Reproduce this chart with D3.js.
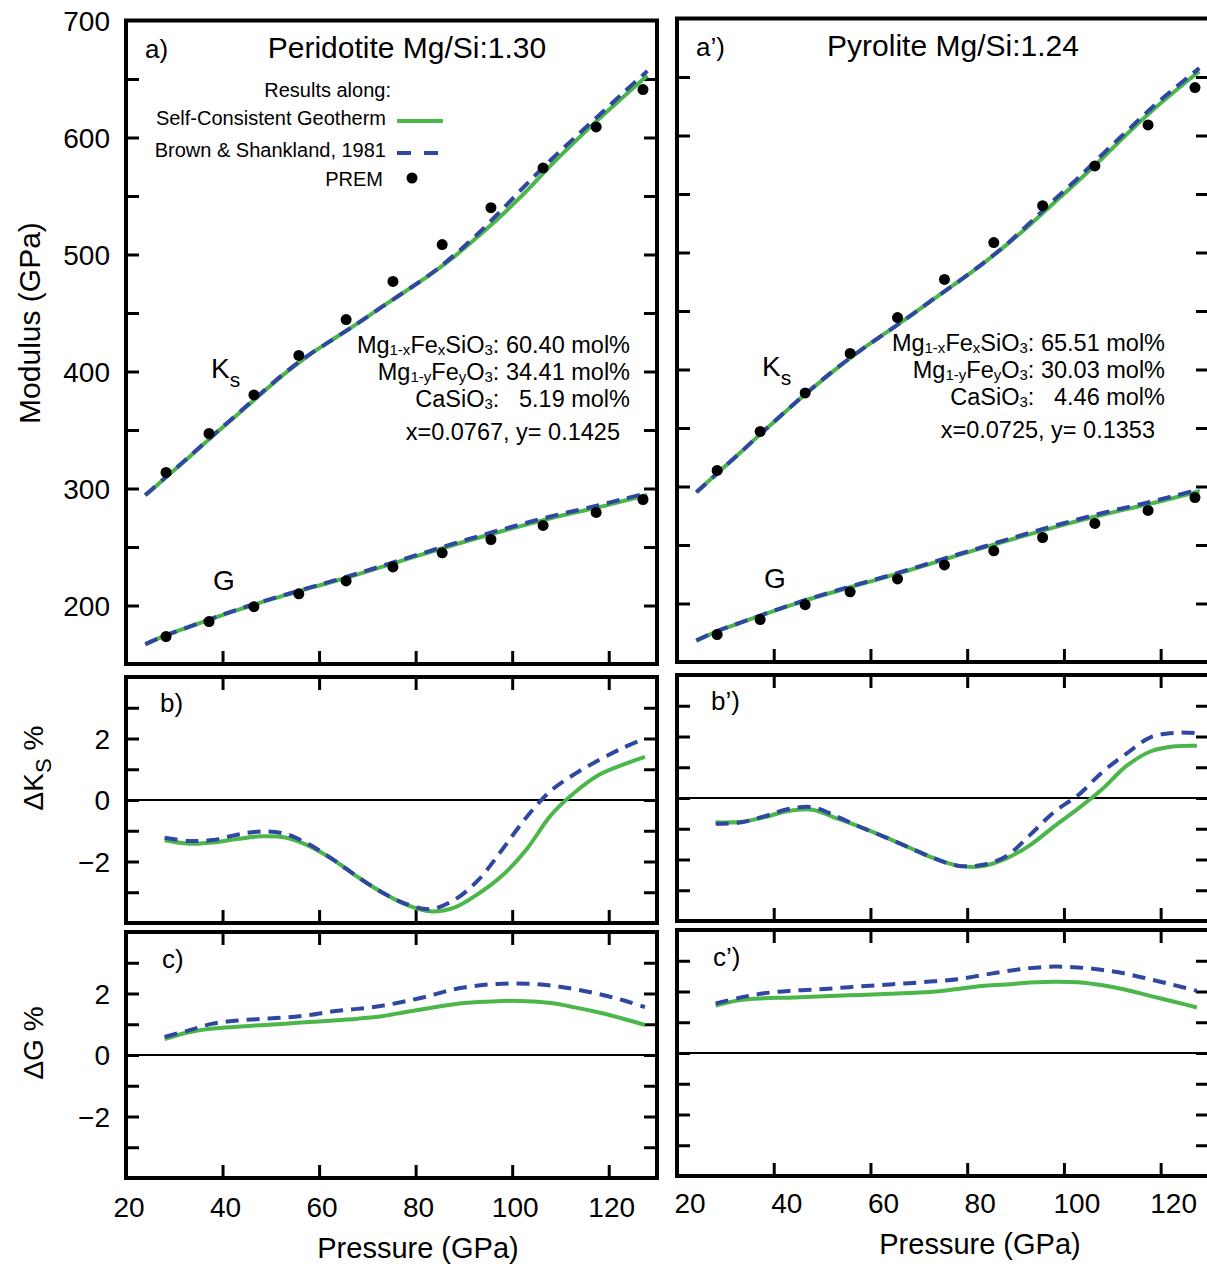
<!DOCTYPE html>
<html lang="en">
<head>
<meta charset="utf-8">
<title>Modulus along geotherms</title>
<script src="https://cdn.jsdelivr.net/npm/d3@7"></script>
<style>
  body { margin: 0; background: #fff; }
  svg text { font-family: "Liberation Sans", Arial, sans-serif; fill: #000; }
</style>
</head>
<body>
<script>
// pressure grids (GPa)
var pTop = [24, 28, 33, 38, 43, 48, 53, 58, 63, 68, 73, 78, 83, 88, 93, 98, 103, 108, 113, 118, 123, 128];
var pDelta = [28, 33, 38, 43, 48, 53, 58, 63, 68, 73, 78, 83, 88, 93, 98, 103, 108, 113, 118, 123, 127.5];

// PREM points
var premP = [28.3, 37.2, 46.5, 55.8, 65.6, 75.3, 85.5, 95.6, 106.4, 117.4, 127.1];
var premKs = [313.7, 347, 380, 413.7, 444.4, 477, 508.5, 540, 574, 609, 641];
var premG = [173.5, 186.3, 199, 210, 221, 233, 245, 256.4, 268.4, 279.5, 290.6];

// peridotite (left)
var ksScL = [294, 308.5, 326.6, 345.0, 362.9, 380.9, 398.6, 414.3, 427.8, 441.2, 455.2, 468.8, 482.7, 498.2, 515.7, 534.2, 554.3, 576.2, 596.5, 616.0, 634.7, 653.0];
var ksBsL = [294.5, 308.8, 326.9, 345.3, 363.4, 381.5, 399.1, 414.5, 427.8, 441.2, 455.2, 468.9, 483.0, 499.5, 518.1, 538.8, 560.2, 580.8, 600.1, 619.0, 638.2, 656.9];
var gScL = [166.7, 174.0, 181.6, 189.0, 196.0, 202.7, 208.8, 214.8, 220.5, 226.6, 233.0, 239.5, 245.7, 251.9, 257.9, 263.7, 269.2, 274.6, 279.4, 284.1, 289.3, 294.5];
var gBsL = [167, 174.1, 181.7, 189.3, 196.4, 203.1, 209.2, 215.3, 221.2, 227.4, 233.8, 240.3, 246.7, 253.1, 259.2, 265.1, 270.7, 276.1, 281.0, 285.7, 291.0, 296.1];
var dKsScL = [-1.31, -1.42, -1.38, -1.27, -1.18, -1.22, -1.5, -1.95, -2.5, -3.0, -3.4, -3.62, -3.5, -3.05, -2.45, -1.6, -0.5, 0.25, 0.82, 1.15, 1.4];
var dKsBsL = [-1.23, -1.33, -1.30, -1.13, -1.02, -1.1, -1.45, -1.95, -2.5, -3.0, -3.38, -3.55, -3.25, -2.6, -1.6, -0.55, 0.3, 0.85, 1.3, 1.7, 2.0];
var dGScL = [0.52, 0.74, 0.86, 0.92, 0.97, 1.02, 1.07, 1.12, 1.18, 1.26, 1.40, 1.53, 1.65, 1.72, 1.76, 1.75, 1.69, 1.55, 1.38, 1.18, 0.98];
var dGBsL = [0.59, 0.80, 1.02, 1.12, 1.17, 1.22, 1.3, 1.42, 1.5, 1.6, 1.75, 1.93, 2.14, 2.26, 2.32, 2.32, 2.26, 2.14, 1.98, 1.78, 1.56];

// pyrolite (right)
var ksScR = [295, 310.1, 328.7, 347.6, 366.1, 383.9, 400.8, 416.6, 430.8, 445.2, 460.1, 474.6, 489.7, 506.1, 523.8, 542.6, 561.3, 580.8, 601.1, 620.3, 638.0, 654.9];
var ksBsR = [295, 310.0, 328.6, 347.7, 366.3, 384.2, 401.1, 416.6, 430.8, 445.2, 460.1, 474.6, 489.9, 506.5, 525.5, 545.1, 563.9, 584.0, 603.6, 623.1, 640.8, 657.6];
var gScR = [168, 175.8, 183.4, 190.7, 197.7, 204.5, 210.5, 216.5, 222.3, 228.4, 234.7, 241.1, 247.3, 253.3, 259.3, 265.1, 270.7, 275.9, 280.7, 285.4, 290.6, 295.9];
var gBsR = [168.5, 175.9, 183.5, 191.0, 198.1, 204.9, 211.1, 217.1, 222.9, 229.1, 235.5, 241.9, 248.1, 254.4, 260.5, 266.4, 272.0, 277.3, 282.2, 286.9, 292.2, 297.5];
var dKsScR = [-0.79, -0.78, -0.63, -0.42, -0.38, -0.66, -0.95, -1.27, -1.61, -1.95, -2.2, -2.22, -1.97, -1.53, -0.92, -0.34, 0.3, 1.05, 1.52, 1.68, 1.7];
var dKsBsR = [-0.84, -0.8, -0.6, -0.36, -0.3, -0.6, -0.95, -1.27, -1.61, -1.95, -2.2, -2.18, -1.9, -1.2, -0.45, 0.1, 0.85, 1.45, 1.98, 2.12, 2.11];
var dGScR = [1.54, 1.72, 1.78, 1.8, 1.83, 1.86, 1.89, 1.92, 1.95, 1.99, 2.08, 2.18, 2.23, 2.29, 2.32, 2.3, 2.2, 2.05, 1.85, 1.66, 1.48];
var dGBsR = [1.61, 1.8, 1.94, 2.02, 2.06, 2.11, 2.17, 2.22, 2.27, 2.33, 2.4, 2.53, 2.66, 2.76, 2.81, 2.78, 2.7, 2.57, 2.39, 2.2, 2.02];

// ticks
var xTicks = [40, 60, 80, 100, 120];
var xLabels = [20, 40, 60, 80, 100, 120];
var modTicks = [200, 250, 300, 350, 400, 450, 500, 550, 600, 650];
var modLabels = [200, 300, 400, 500, 600, 700];
var dTicks = [-3, -2, -1, 0, 1, 2, 3];
var dLabels = [-2, 0, 2];

var green = "#4bb74a";
var blue = "#2f47a0";

var svg = d3.select("body").append("svg")
    .attr("width", 1207)
    .attr("height", 1269);

function zip(xs, ys) { return xs.map(function(d, i) { return [d, ys[i]]; }); }

function axes(x, y, opts) {
  var g = svg.append("g");
  var x0 = x.range()[0], x1 = x.range()[1];
  var yb = y.range()[0], yt = y.range()[1];
  g.append("g").attr("transform", "translate(" + x0 + ",0)")
    .call(d3.axisLeft(y).tickValues(opts.yTicks).tickSize(-13).tickFormat(""));
  g.append("g").attr("transform", "translate(" + x1 + ",0)")
    .call(d3.axisRight(y).tickValues(opts.yTicks).tickSize(-13).tickFormat(""));
  g.append("g").attr("transform", "translate(0," + yb + ")")
    .call(d3.axisBottom(x).tickValues(xTicks).tickSize(-13).tickFormat(""));
  if (opts.top) {
    g.append("g").attr("transform", "translate(0," + yt + ")")
      .call(d3.axisTop(x).tickValues(xTicks).tickSize(-13).tickFormat(""));
  }
  g.selectAll(".domain").remove();
  g.selectAll(".tick line").attr("stroke", "#000").attr("stroke-width", 3);
  if (opts.zero) {
    g.append("line")
      .attr("x1", x0).attr("x2", x1)
      .attr("y1", y(0)).attr("y2", y(0))
      .attr("stroke", "#000").attr("stroke-width", 2);
  }
  g.append("rect")
    .attr("x", x0).attr("y", yt)
    .attr("width", x1 - x0).attr("height", yb - yt)
    .attr("fill", "none").attr("stroke", "#000").attr("stroke-width", 4);
  return g;
}

function yLabels(y, x0, vals, fmt) {
  svg.append("g").selectAll("text").data(vals).enter().append("text")
    .attr("x", x0 - 16)
    .attr("y", function(d) { return y(d); })
    .attr("dy", "0.36em")
    .attr("text-anchor", "end")
    .style("font-size", "28px")
    .text(fmt);
}

function curves(x, y, ps, sc, bs) {
  var line = d3.line()
    .curve(d3.curveCatmullRom.alpha(0.5))
    .x(function(d) { return x(d[0]); })
    .y(function(d) { return y(d[1]); });
  svg.append("path").attr("d", line(zip(ps, sc)))
    .attr("fill", "none").attr("stroke", green).attr("stroke-width", 4);
  svg.append("path").attr("d", line(zip(ps, bs)))
    .attr("fill", "none").attr("stroke", blue).attr("stroke-width", 4)
    .attr("stroke-dasharray", "13,8");
}

function dots(x, y, ps, vs) {
  svg.append("g").selectAll("circle").data(zip(ps, vs)).enter().append("circle")
    .attr("cx", function(d) { return x(d[0]); })
    .attr("cy", function(d) { return y(d[1]); })
    .attr("r", 5.5).attr("fill", "#000");
}

function label(x, y, txt, size, anchor) {
  return svg.append("text").attr("x", x).attr("y", y)
    .attr("text-anchor", anchor || "start")
    .style("font-size", size + "px").text(txt);
}

function ksLabel(x, y, sub) {
  var t = svg.append("text").attr("x", x).attr("y", y).style("font-size", "28px");
  t.append("tspan").text("K");
  t.append("tspan").attr("dy", 9).style("font-size", "21px").text(sub);
}

// chemical formula line with small subscripts
function formula(x, y, parts) {
  var t = svg.append("text").attr("x", x).attr("y", y)
    .attr("text-anchor", "end").style("font-size", "23.5px");
  parts.forEach(function(p) {
    if (p[1]) t.append("tspan").attr("dy", 2).style("font-size", "15px").text(p[0]);
    else t.append("tspan").attr("dy", p[2] ? -2 : 0).text(p[0]);
  });
}

function column(c) {
  var x = d3.scaleLinear().domain([20, 130]).range([c.x0, c.x1]);
  var yTop = d3.scaleLinear().domain([150, 700]).range([664 + c.dy, 20.5 + c.dy]);
  var yB = d3.scaleLinear().domain([-4, 4]).range([923 + c.dy, 677 + c.dy]);
  var yC = d3.scaleLinear().domain([-4, 4]).range([1178 + c.dy, 932 + c.dy]);

  axes(x, yTop, { yTicks: modTicks, top: false });
  axes(x, yB, { yTicks: dTicks, top: true, zero: true });
  axes(x, yC, { yTicks: dTicks, top: true, zero: true });

  curves(x, yTop, pTop, c.ksSc, c.ksBs);
  curves(x, yTop, pTop, c.gSc, c.gBs);
  dots(x, yTop, premP, premKs);
  dots(x, yTop, premP, premG);
  curves(x, yB, pDelta, c.dKsSc, c.dKsBs);
  curves(x, yC, pDelta, c.dGSc, c.dGBs);

  svg.append("g").selectAll("text").data(xLabels).enter().append("text")
    .attr("x", function(d) { return x(d) + c.labDx; })
    .attr("y", c.labY)
    .attr("text-anchor", "middle")
    .style("font-size", "28px")
    .text(function(d) { return d; });
  label(c.x0 + 292 + c.titleDx, c.labY + 41, "Pressure (GPa)", 29, "middle");

  if (c.yLab) {
    yLabels(yTop, c.x0, modLabels, function(d) { return d; });
    yLabels(yB, c.x0, dLabels, function(d) { return d < 0 ? "\u2212" + (-d) : d; });
    yLabels(yC, c.x0, dLabels, function(d) { return d < 0 ? "\u2212" + (-d) : d; });
  }

  label(c.x0 + 19, 58 + c.dy, c.tag[0], 26);
  label(c.x0 + 34, 712 + c.dy, c.tag[1], 26);
  label(c.x0 + 36, 968 + c.dy, c.tag[2], 26);
  label(c.titleX, 58 + c.dy, c.title, 30, "middle");

  ksLabel(c.x0 + 85, 378 + c.dy, "s");
  label(c.x0 + 87, 590 + c.dy, "G", 28);

  var ax = c.annX;
  formula(ax, 353 + c.dy, [["Mg"], ["1-x", 1], ["Fe", 0, 1], ["x", 1], ["SiO", 0, 1], ["3", 1], [": " + c.comp[0] + " mol%", 0, 1]]);
  formula(ax, 380 + c.dy, [["Mg"], ["1-y", 1], ["Fe", 0, 1], ["y", 1], ["O", 0, 1], ["3", 1], [": " + c.comp[1] + " mol%", 0, 1]]);
  formula(ax, 407 + c.dy, [["CaSiO"], ["3", 1], [":\u00a0\u00a0\u00a0" + c.comp[2] + " mol%", 0, 1]]);
  label(ax - 10, 440 + c.dy, c.xy, 23.5, "end");
}

column({
  x0: 126, x1: 657, dy: 0, labDx: 3, labY: 1217, titleDx: 0, yLab: true,
  tag: ["a)", "b)", "c)"], title: "Peridotite Mg/Si:1.30", titleX: 407,
  ksSc: ksScL, ksBs: ksBsL, gSc: gScL, gBs: gBsL,
  dKsSc: dKsScL, dKsBs: dKsBsL, dGSc: dGScL, dGBs: dGBsL,
  annX: 630, comp: ["60.40", "34.41", "5.19"], xy: "x=0.0767, y= 0.1425"
});

column({
  x0: 677, x1: 1209, dy: -2, labDx: 13, labY: 1213, titleDx: 11, yLab: false,
  tag: ["a\u2019)", "b\u2019)", "c\u2019)"], title: "Pyrolite Mg/Si:1.24", titleX: 953,
  ksSc: ksScR, ksBs: ksBsR, gSc: gScR, gBs: gBsR,
  dKsSc: dKsScR, dKsBs: dKsBsR, dGSc: dGScR, dGBs: dGBsR,
  annX: 1165, comp: ["65.51", "30.03", "4.46"], xy: "x=0.0725, y= 0.1353"
});

// legend (left top panel)
label(391, 97, "Results along:", 20, "end");
label(386, 125, "Self-Consistent Geotherm", 20, "end");
label(386, 157, "Brown & Shankland, 1981", 20, "end");
label(383, 186, "PREM", 20, "end");
svg.append("line").attr("x1", 397).attr("x2", 443).attr("y1", 121).attr("y2", 121)
  .attr("stroke", green).attr("stroke-width", 4);
svg.append("line").attr("x1", 397).attr("x2", 440).attr("y1", 153).attr("y2", 153)
  .attr("stroke", blue).attr("stroke-width", 4).attr("stroke-dasharray", "14,13");
svg.append("circle").attr("cx", 412).attr("cy", 178).attr("r", 5.5).attr("fill", "#000");

// y axis titles
svg.append("text").attr("transform", "translate(40,323) rotate(-90)")
  .attr("text-anchor", "middle").style("font-size", "30px").text("Modulus (GPa)");
var dk = svg.append("text").attr("transform", "translate(43,768) rotate(-90)")
  .attr("text-anchor", "middle").style("font-size", "28px");
dk.append("tspan").text("\u0394K");
dk.append("tspan").attr("dy", 8).style("font-size", "22px").text("S");
dk.append("tspan").attr("dy", -8).text(" %");
svg.append("text").attr("transform", "translate(43,1043) rotate(-90)")
  .attr("text-anchor", "middle").style("font-size", "28px").text("\u0394G %");
</script>
</body>
</html>
